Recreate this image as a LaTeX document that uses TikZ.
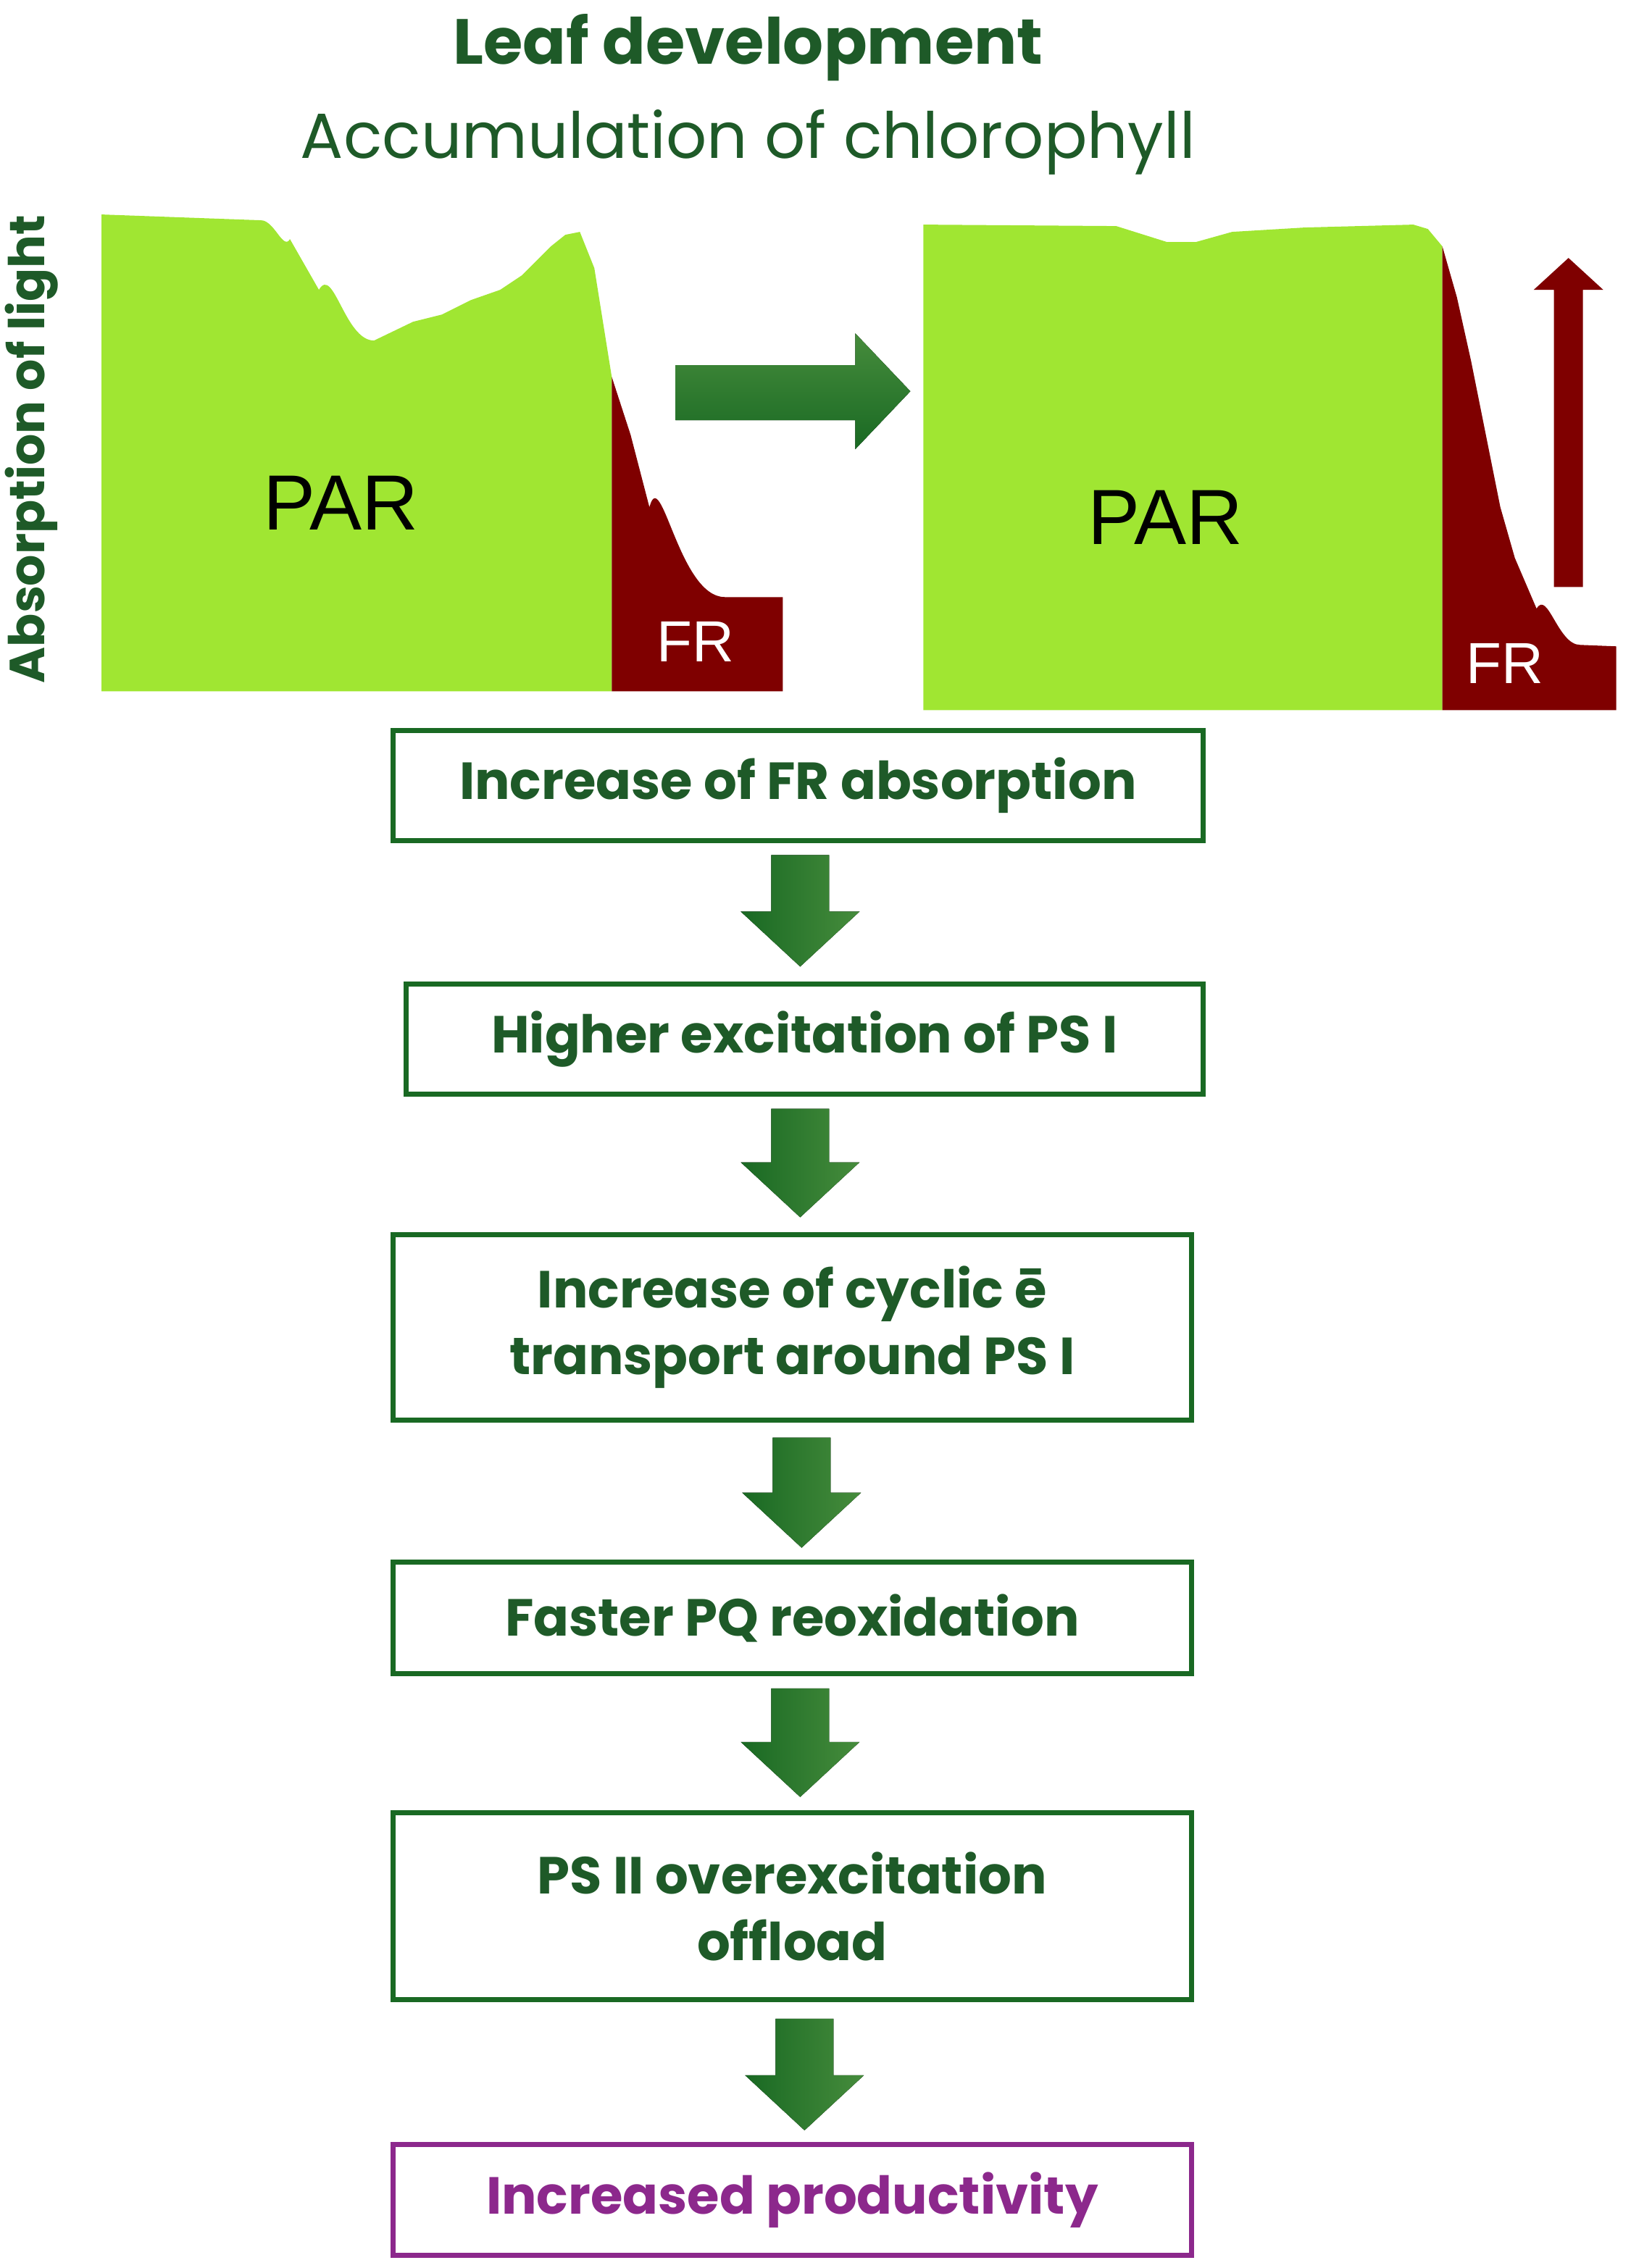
\documentclass[tikz,border=0pt]{standalone}
\usepackage{fontspec}
\setmainfont{Poppins}
\newfontfamily\arialf{Liberation Sans}
\definecolor{lg}{RGB}{160,230,50}
\definecolor{dr}{RGB}{127,0,0}
\definecolor{tg}{RGB}{30,90,40}
\definecolor{ag}{RGB}{25,105,35}
\definecolor{ag2}{RGB}{70,140,60}
\definecolor{pu}{RGB}{140,40,140}
\begin{document}
\begin{tikzpicture}[x=1pt,y=-1pt,
 box/.style={draw=ag,line width=3.5pt,text=tg,font=\fontsize{36}{46}\selectfont\bfseries,align=center,inner sep=0},
 darr/.style={left color=ag,right color=ag2,draw=none}]
\useasboundingbox (0,0) rectangle (1125,1565);
\node[text=tg,font=\fontsize{44}{50}\selectfont\bfseries] (t1) at (516,33) {Leaf development};
\node[text=tg,font=\fontsize{44}{50}\selectfont] (t2) at (516,98) {Accumulation of chlorophyll};
\node[text=tg,rotate=90,font=\fontsize{34}{40}\selectfont\bfseries] (ax) at (22,310) {Absorption of light};
% left chart
\fill[lg] (70,148) -- (180,152) to[out=0,in=-120] (200,165) -- (220,200) to[out=60,in=180] (258,235) -- (285,222) -- (305,217) -- (325,207) -- (345,200) -- (360,190) -- (380,170) -- (390,162) -- (400,160) -- (410,185) -- (422,260) -- (422,477) -- (70,477) -- cycle;
\fill[dr] (422,260) -- (435,300) -- (448,350) to[out=75,in=180] (500,412) -- (540,412) -- (540,477) -- (422,477) -- cycle;
\node[font=\arialf\fontsize{54}{60}\selectfont] (p1) at (235,347) {PAR};
\node[text=white,font=\arialf\fontsize{40}{46}\selectfont] (f1) at (480,443) {FR};
% right chart
\fill[lg] (637,155) -- (770,156) -- (805,167) -- (825,167) -- (850,160) -- (900,157) -- (975,155) -- (985,158) -- (995,170) -- (995,490) -- (637,490) -- cycle;
\fill[dr] (995,170) -- (1005,205) -- (1015,250) -- (1025,300) -- (1035,350) -- (1045,385) -- (1060,420) to[out=60,in=180] (1090,445) -- (1115,446) -- (1115,490) -- (995,490) -- cycle;
\node[font=\arialf\fontsize{54}{60}\selectfont] (p2) at (804,357) {PAR};
\node[text=white,font=\arialf\fontsize{40}{46}\selectfont] (f2) at (1038,458) {FR};
\fill[dr] (1072,405) -- (1072,200) -- (1058,200) -- (1082,178) -- (1106,200) -- (1092,200) -- (1092,405) -- cycle;
\fill[top color=ag2,bottom color=ag] (466,252) -- (590,252) -- (590,230) -- (628,270) -- (590,310) -- (590,290) -- (466,290) -- cycle;
% boxes
\node[box,minimum width=559,minimum height=76] (b1) at (550.5,542) {Increase of FR absorption};
\node[box,minimum width=550,minimum height=76] (b2) at (555,717) {Higher excitation of PS I};
\node[box,minimum width=551,minimum height=128] (b3) at (546.5,916) {Increase of cyclic \=e\\transport around PS I};
\node[box,minimum width=551,minimum height=77] (b4) at (546.5,1116.5) {Faster PQ reoxidation};
\node[box,minimum width=551,minimum height=129] (b5) at (546.5,1315.5) {PS II overexcitation\\offload};
\node[box,draw=pu,text=pu,minimum width=551,minimum height=76] (b6) at (546.5,1518) {Increased productivity};
% down arrows
\foreach \cx/\ya/\yb in {552/590/667, 552/765/840, 553/992/1068, 552/1165/1240, 555/1393/1470}{
 \fill[darr] (\cx-20,\ya) -- (\cx+20,\ya) -- (\cx+20,\yb-38) -- (\cx+41,\yb-38) -- (\cx,\yb) -- (\cx-41,\yb-38) -- (\cx-20,\yb-38) -- cycle;}
\end{tikzpicture}
\end{document}
